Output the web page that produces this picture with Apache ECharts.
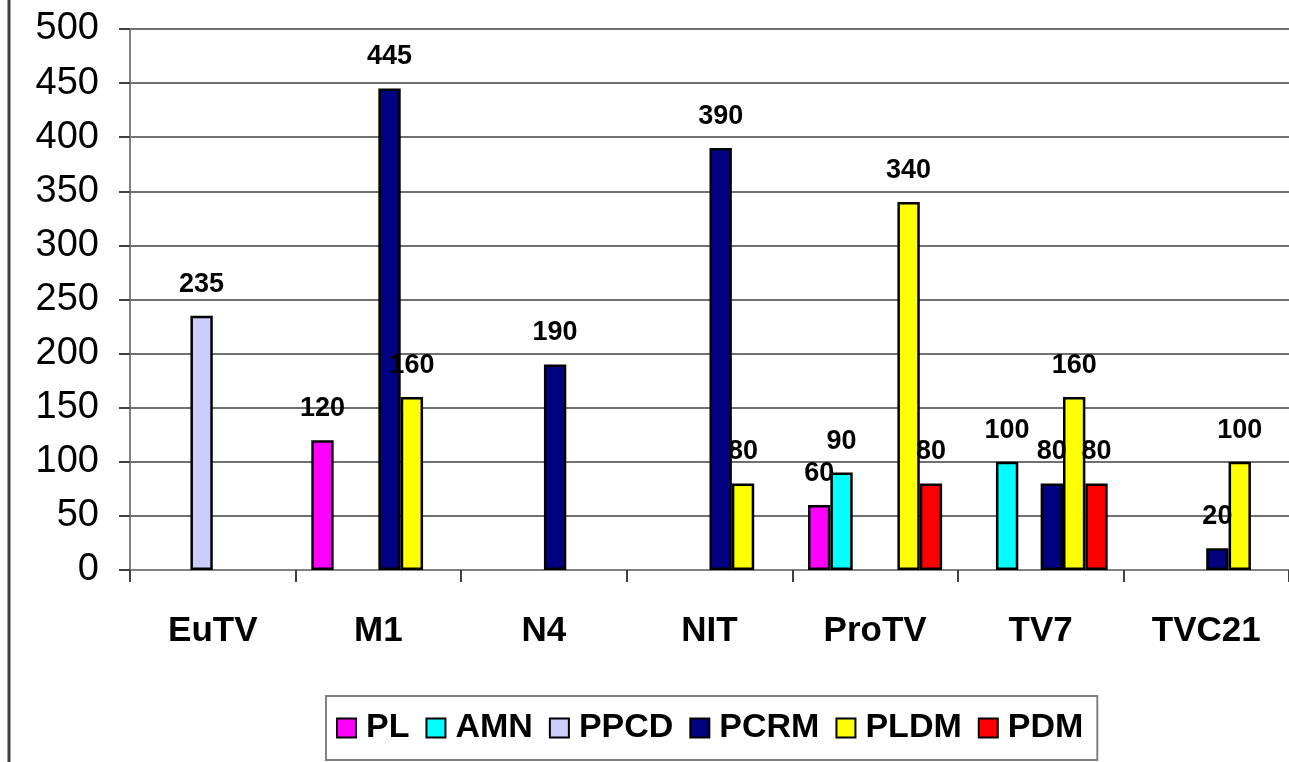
<!DOCTYPE html>
<html>
<head>
<meta charset="utf-8">
<script src="https://cdn.jsdelivr.net/npm/echarts@6/dist/echarts.min.js"></script>
<style>
	html, body { margin: 0; padding: 0; background: #fff; }
	#chart { width: 1289px; height: 762px; }
</style>
</head>
<body>
<div id="chart"></div>
<script type="text/javascript">
	// channels
	var categories = ['EuTV', 'M1', 'N4', 'NIT', 'ProTV', 'TV7', 'TVC21'];
	var yTicks = [0, 50, 100, 150, 200, 250, 300, 350, 400, 450, 500];

	// values per party, null = no bar
	var PL   = [null, 120, null, null, 60, null, null];
	var AMN  = [null, null, null, null, 90, 100, null];
	var PPCD = [235, null, null, null, null, null, null];
	var PCRM = [null, 445, 190, 390, null, 80, 20];
	var PLDM = [null, 160, null, 80, 340, 160, 100];
	var PDM  = [null, null, null, null, 80, 80, null];

	var names = ['PL', 'AMN', 'PPCD', 'PCRM', 'PLDM', 'PDM'];
	var values = [PL, AMN, PPCD, PCRM, PLDM, PDM];
	var colors = ['#FF00FF', '#00FFFF', '#CCCCFF', '#000080', '#FFFF00', '#FF0000'];

	var font = 'Arial, "Liberation Sans", sans-serif';

	var series = [];
	for (var i = 0; i < names.length; i++) {
		series.push({
			name: names[i],
			type: 'bar',
			barGap: '0%',
			barCategoryGap: '19%',
			data: values[i],
			itemStyle: { color: colors[i], borderColor: '#000', borderWidth: 2.5 },
			label: {
				show: true,
				position: 'top',
				distance: 18,
				color: '#000',
				fontWeight: 'bold',
				fontSize: 27,
				fontFamily: font
			}
		});
	}

	var chart = echarts.init(document.getElementById('chart'));
	chart.setOption({
		animation: false,
		color: colors,
		grid: { left: 130, top: 29, width: 1162, height: 541, containLabel: false },
		legend: {
			data: names,
			left: 326,
			top: 696,
			padding: [15, 14, 15, 10],
			borderColor: '#808080',
			borderWidth: 2,
			itemWidth: 19,
			itemHeight: 19,
			itemGap: 16,
			icon: 'rect',
			itemStyle: { borderColor: '#000', borderWidth: 2 },
			textStyle: { fontSize: 34, fontWeight: 'bold', color: '#000', fontFamily: font, padding: [0, 0, 0, 5] }
		},
		xAxis: {
			type: 'category',
			data: categories,
			axisLine: { lineStyle: { color: '#808080', width: 2 } },
			axisTick: { show: true, length: 12, lineStyle: { color: '#404040', width: 2 } },
			axisLabel: { margin: 44, fontSize: 35, fontWeight: 'bold', color: '#000', fontFamily: font }
		},
		yAxis: {
			type: 'value',
			min: yTicks[0],
			max: yTicks[yTicks.length - 1],
			interval: 50,
			axisLine: { show: true, lineStyle: { color: '#808080', width: 2 } },
			axisTick: { show: true, length: 11, lineStyle: { color: '#404040', width: 2 } },
			axisLabel: { margin: 31, fontSize: 38, color: '#000', fontFamily: font },
			splitLine: { lineStyle: { color: '#707070', width: 2 } }
		},
		graphic: [{
			type: 'line',
			shape: { x1: 9, y1: 0, x2: 9, y2: 762 },
			style: { stroke: '#404040', lineWidth: 3 }
		}],
		series: series
	});
</script>
</body>
</html>
